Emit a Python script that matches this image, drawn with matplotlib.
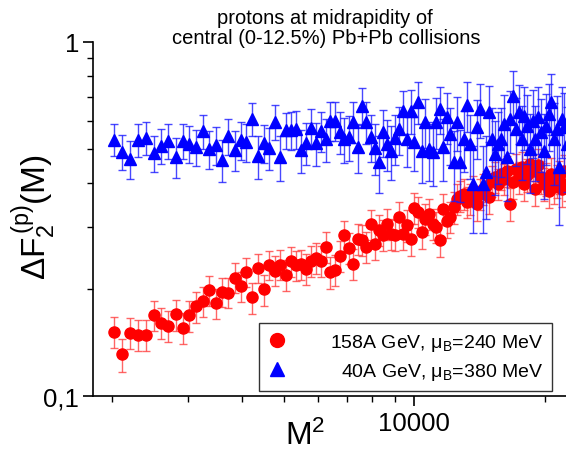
import numpy as np
import matplotlib
matplotlib.use("Agg")
import matplotlib.pyplot as plt
from matplotlib.lines import Line2D
from matplotlib.ticker import NullFormatter

plt.rcParams["font.family"] = ["Liberation Sans", "DejaVu Sans"]
plt.rcParams["mathtext.fontset"] = "custom"
plt.rcParams["mathtext.rm"] = "Liberation Sans"
plt.rcParams["mathtext.it"] = "Liberation Sans:italic"
plt.rcParams["mathtext.bf"] = "Liberation Sans:bold"

# number of bins per dimension, plotted against M^2
m_bins = list(range(45, 151))

# 158A GeV
red_vals = [
    0.152, 0.131, 0.151, 0.149, 0.149, 0.169, 0.161, 0.158, 0.170, 0.156,
    0.169, 0.179, 0.185, 0.199, 0.183, 0.197, 0.196, 0.216, 0.204, 0.224,
    0.190, 0.230, 0.200, 0.234, 0.226, 0.235, 0.220, 0.240, 0.234, 0.236,
    0.229,
    0.241, 0.246, 0.241, 0.264, 0.224, 0.227, 0.249, 0.285, 0.262, 0.236,
    0.278, 0.276, 0.264, 0.306, 0.269, 0.295, 0.285, 0.306, 0.287, 0.285,
    0.321, 0.287, 0.304, 0.278, 0.340, 0.331, 0.291, 0.317, 0.327, 0.306,
    0.301, 0.276, 0.338, 0.312, 0.321, 0.342,
    0.361, 0.368, 0.373, 0.354, 0.361, 0.380, 0.349, 0.373, 0.385, 0.393,
    0.365, 0.406, 0.416, 0.398, 0.424, 0.411, 0.433, 0.349, 0.403, 0.438,
    0.416, 0.444, 0.398, 0.422, 0.453, 0.433, 0.385, 0.450, 0.416, 0.398,
    0.411, 0.380, 0.424, 0.390, 0.406, 0.416, 0.385, 0.433, 0.398,
]
red_err = [
    0.015, 0.014, 0.015, 0.015, 0.015, 0.016, 0.016, 0.016, 0.017, 0.016,
    0.017, 0.018, 0.018, 0.019, 0.018, 0.019, 0.019, 0.021, 0.020, 0.021,
    0.019, 0.022, 0.020, 0.022, 0.022, 0.023, 0.022, 0.023, 0.023, 0.023,
    0.023,
    0.024, 0.025, 0.024, 0.026, 0.023, 0.023, 0.025, 0.028, 0.026, 0.024,
    0.028, 0.028, 0.027, 0.030, 0.027, 0.030, 0.029, 0.031, 0.029, 0.029,
    0.032, 0.029, 0.031, 0.029, 0.034, 0.033, 0.030, 0.032, 0.033, 0.031,
    0.031, 0.029, 0.034, 0.032, 0.033, 0.035,
    0.036, 0.037, 0.038, 0.036, 0.037, 0.039, 0.036, 0.038, 0.039, 0.040,
    0.038, 0.041, 0.042, 0.041, 0.043, 0.042, 0.044, 0.037, 0.042, 0.045,
    0.043, 0.046, 0.042, 0.044, 0.047, 0.045, 0.041, 0.047, 0.044, 0.042,
    0.043, 0.041, 0.045, 0.042, 0.044, 0.045, 0.042, 0.046, 0.043,
]

# 40A GeV
blue_vals = [
    0.530, 0.490, 0.468, 0.530, 0.537, 0.487, 0.509, 0.526, 0.474, 0.526,
    0.516, 0.506, 0.562, 0.500, 0.513, 0.465, 0.544, 0.496, 0.530, 0.523,
    0.607, 0.477, 0.519, 0.503, 0.596, 0.474, 0.565, 0.565, 0.569, 0.496,
    0.519,
    0.573, 0.519, 0.562, 0.533, 0.600, 0.600, 0.558, 0.533, 0.540, 0.596,
    0.506, 0.661, 0.596, 0.540, 0.503, 0.459, 0.558, 0.516, 0.493, 0.537,
    0.569, 0.640, 0.533, 0.640, 0.523, 0.679, 0.493, 0.596, 0.500, 0.490,
    0.596, 0.648, 0.506, 0.615, 0.551, 0.459,
    0.596, 0.459, 0.533, 0.665, 0.516, 0.398, 0.576, 0.648, 0.398, 0.430,
    0.636, 0.533, 0.484, 0.516, 0.533, 0.588, 0.474, 0.607, 0.706, 0.569,
    0.636, 0.533, 0.619, 0.580, 0.500, 0.600, 0.533, 0.615, 0.558, 0.493,
    0.580, 0.627, 0.679, 0.533, 0.569, 0.444, 0.607, 0.576, 0.516,
]
blue_err = [
    0.055, 0.055, 0.058, 0.056, 0.058, 0.057, 0.058, 0.060, 0.060, 0.060,
    0.062, 0.060, 0.062, 0.062, 0.063, 0.064, 0.063, 0.064, 0.065, 0.064,
    0.066, 0.066, 0.065, 0.067, 0.068, 0.068, 0.067, 0.069, 0.070, 0.070,
    0.071,
    0.072, 0.072, 0.074, 0.074, 0.075, 0.076, 0.076, 0.077, 0.078, 0.079,
    0.079, 0.080, 0.081, 0.082, 0.082, 0.084, 0.085, 0.085, 0.086, 0.087,
    0.088, 0.089, 0.090, 0.090, 0.092, 0.093, 0.094, 0.095, 0.096, 0.097,
    0.098, 0.099, 0.100, 0.101, 0.102, 0.103,
    0.104, 0.106, 0.105, 0.108, 0.107, 0.110, 0.109, 0.112, 0.110, 0.114,
    0.113, 0.116, 0.115, 0.118, 0.117, 0.120, 0.118, 0.122, 0.121, 0.124,
    0.122, 0.126, 0.125, 0.128, 0.126, 0.130, 0.128, 0.132, 0.130, 0.134,
    0.132, 0.136, 0.134, 0.138, 0.136, 0.140, 0.138, 0.142, 0.140,
]

legend_labels = [
    r"158A GeV, $\mathregular{\mu_B}$=240 MeV",
    r"40A GeV, $\mathregular{\mu_B}$=380 MeV",
]

x = np.array(m_bins) ** 2

fig = plt.figure(figsize=(5.66, 4.52), dpi=100)
ax = fig.add_axes([93 / 566, 55 / 452, 473 / 566, 354 / 452])

ax.errorbar(x, red_vals, yerr=red_err, fmt="o", ms=8, color="#ff0000",
            ecolor=(1.0, 0.25, 0.25, 0.8), elinewidth=1.0, capsize=3,
            capthick=1.0, zorder=2)
ax.errorbar(x, blue_vals, yerr=blue_err, fmt="^", ms=9, color="#0000ff",
            ecolor=(0.1, 0.1, 1.0, 0.8), elinewidth=1.0, capsize=3,
            capthick=1.0, zorder=3)

ax.set_xscale("log")
ax.set_yscale("log")
ax.set_xlim(1811, 22400)
ax.set_ylim(0.1, 1)

ax.set_xticks([10000])
ax.set_xticklabels(["10000"])
ax.set_xticks([2000, 3000, 4000, 5000, 6000, 7000, 8000, 9000, 20000], minor=True)
ax.xaxis.set_minor_formatter(NullFormatter())
ax.set_yticks([0.1, 1])
ax.set_yticklabels(["0,1", "1"])
ax.set_yticks([0.2, 0.3, 0.4, 0.5, 0.6, 0.7, 0.8, 0.9], minor=True)
ax.yaxis.set_minor_formatter(NullFormatter())

ax.tick_params(which="major", direction="out", length=7, width=1.2,
               labelsize=18.5, pad=3)
ax.tick_params(axis="x", which="major", pad=4)
ax.tick_params(which="minor", direction="out", length=4, width=1.0)

for side in ["top", "right"]:
    ax.spines[side].set_visible(False)
for side in ["left", "bottom"]:
    ax.spines[side].set_linewidth(1.2)

handles = [
    Line2D([], [], ls="none", marker="o", ms=10, color="#ff0000"),
    Line2D([], [], ls="none", marker="^", ms=10, color="#0000ff"),
]
leg = ax.legend(handles, legend_labels, loc="lower right",
                bbox_to_anchor=(0.970, 0.014), borderaxespad=0,
                fancybox=False, edgecolor="#333333", framealpha=1,
                fontsize=14, handlelength=1.0, handletextpad=2.2,
                labelspacing=0.45, borderpad=0.45)
leg.get_frame().set_linewidth(1.0)

# right-align the legend texts
fig.canvas.draw()
renderer = fig.canvas.get_renderer()
widths = [t.get_window_extent(renderer).width for t in leg.get_texts()]
for t, w in zip(leg.get_texts(), widths):
    t.set_position((max(widths) - w, 0))

fig.text(0.574, 1 - 23.5 / 452, "protons at midrapidity of",
         ha="center", va="baseline", fontsize=14.5)
fig.text(0.577, 1 - 43.5 / 452, "central (0-12.5%) Pb+Pb collisions",
         ha="center", va="baseline", fontsize=14.5)

fig.text(0.060, 0.5206, r"$\mathregular{\Delta F_2^{\,(p)}(M)}$",
         rotation=90, ha="center", va="center", fontsize=24)
fig.text(285 / 566, 1 - 445 / 452, r"$\mathregular{M^2}$",
         ha="left", va="baseline", fontsize=23)

fig.savefig("out.png", dpi=100)
